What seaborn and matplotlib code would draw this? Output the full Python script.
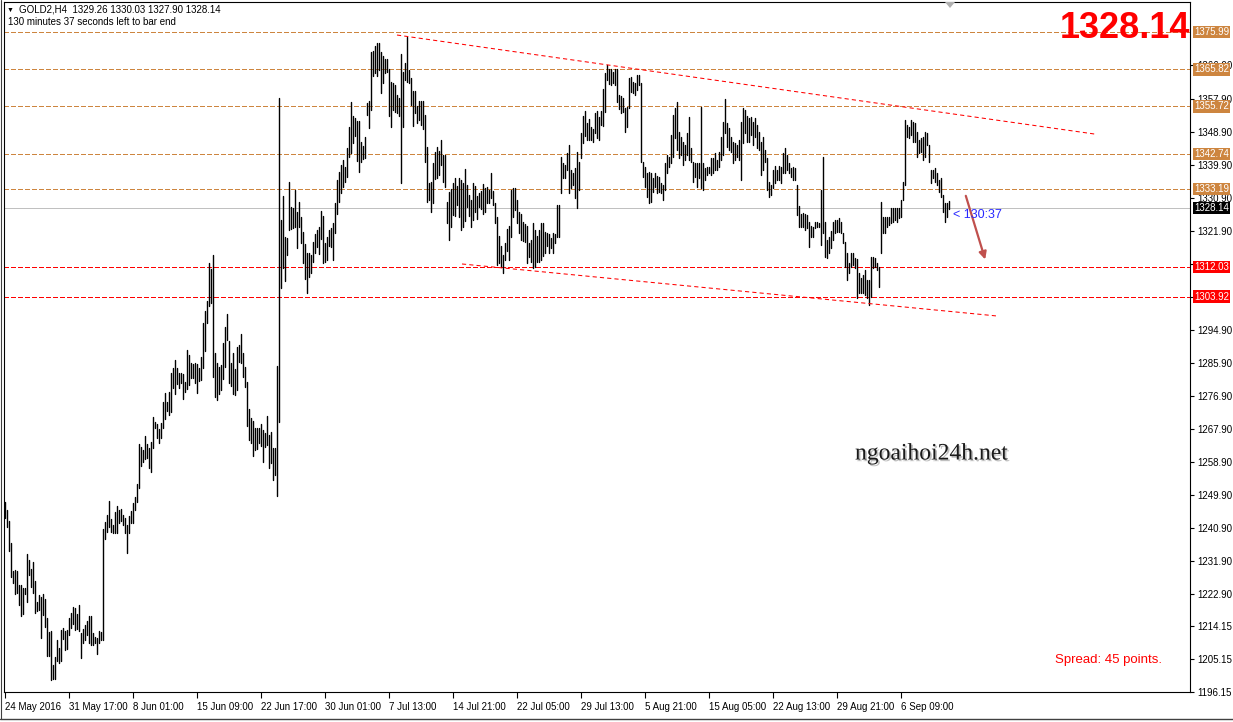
"""
GOLD H4 bar chart (MT4 style) redrawn with seaborn + matplotlib.
Output: out.png (1233x722)
"""

import numpy as np
import pandas as pd

import matplotlib
matplotlib.use("Agg")
import matplotlib.pyplot as plt
import matplotlib.transforms as mtransforms
import matplotlib.patheffects as pe
import seaborn as sns


# ══════════════════════════════════════════════════════════════
# Data
# ══════════════════════════════════════════════════════════════
SYMBOL_LINE = "GOLD2,H4  1329.26 1330.03 1327.90 1328.14"
TIMER_LINE = "130 minutes 37 seconds left to bar end"
LAST_PRICE = 1328.14

# H4 bar highs, oldest first
highs = [
    1247.9, 1245.7, 1242.7, 1236.8, 1229.1, 1229.4, 1229.1, 1225.3, 1225.3, 1224.5,
    1224.5, 1233.7, 1232.1, 1229.6, 1231.6, 1226.4, 1220.7, 1222.6, 1222.0, 1222.8,
    1221.5, 1216.3, 1212.5, 1212.7, 1203.5, 1205.7, 1210.3, 1208.1, 1213.0, 1213.6,
    1212.7, 1213.0, 1216.3, 1217.6, 1219.3, 1219.0, 1217.4, 1219.8, 1212.2, 1213.3,
    1214.4, 1215.5, 1216.9, 1216.9, 1212.2, 1211.1, 1210.8, 1212.7, 1212.5, 1240.6,
    1242.5, 1244.4, 1248.2, 1243.3, 1241.6, 1245.2, 1246.8, 1245.7, 1246.0, 1244.4,
    1243.5, 1241.6, 1244.1, 1245.5, 1247.7, 1249.3, 1252.8, 1263.7, 1262.9, 1262.1,
    1265.9, 1263.7, 1262.6, 1264.3, 1271.1, 1269.7, 1269.2, 1267.8, 1269.4, 1275.2,
    1277.6, 1275.2, 1277.9,
    1283.1, 1284.4, 1286.6, 1284.4, 1283.1, 1283.1, 1282.8, 1280.6, 1289.3, 1288.0,
    1285.8, 1285.5, 1285.8, 1285.5, 1284.4, 1287.4, 1296.7, 1300.0, 1302.7, 1313.0,
    1311.4, 1315.2, 1288.5, 1285.8, 1284.7, 1285.2, 1291.2, 1295.6, 1299.1, 1291.8,
    1285.8, 1288.5, 1284.2, 1290.1, 1290.7, 1293.7, 1288.5, 1284.7, 1280.6, 1273.3,
    1270.8, 1270.0, 1268.1, 1268.1, 1268.1, 1269.2, 1267.5, 1266.7, 1271.3, 1266.2,
    1267.0, 1262.6, 1262.6, 1285.0, 1358.0, 1324.8, 1331.3, 1320.1, 1319.8, 1335.1,
    1328.3, 1328.0, 1332.9, 1326.9, 1329.7, 1325.6, 1321.5, 1318.2, 1315.8, 1315.8,
    1315.2, 1318.8, 1320.9, 1322.0, 1322.8,
    1327.2, 1325.8, 1318.5, 1320.1, 1322.0, 1322.6, 1323.9, 1329.4, 1335.7, 1337.8,
    1339.7, 1341.1, 1339.2, 1344.4, 1350.1, 1356.9, 1353.1, 1352.6, 1351.7, 1351.7,
    1346.0, 1344.9, 1347.4, 1356.6, 1357.2, 1370.5, 1370.8, 1372.2, 1373.0, 1373.0,
    1370.5, 1369.4, 1368.6, 1368.6, 1365.9, 1362.4, 1362.1, 1361.5, 1358.8, 1358.0,
    1370.0, 1365.1, 1367.5, 1374.6, 1365.6, 1363.4, 1359.9, 1359.9, 1355.8, 1357.2,
    1357.2, 1357.2, 1353.4, 1344.6, 1334.8, 1335.1, 1340.3, 1343.3, 1344.6, 1343.6,
    1346.6, 1342.5, 1342.5, 1329.7, 1332.4, 1333.2, 1334.8, 1336.2, 1334.0, 1336.2,
    1335.7, 1334.8, 1338.6, 1334.3, 1331.6, 1330.2, 1334.8, 1334.0, 1331.3, 1332.1,
    1332.7, 1334.6, 1333.5, 1333.7, 1332.9, 1337.6, 1332.7, 1329.4, 1325.6, 1320.4,
    1317.7, 1315.2, 1318.5, 1322.3, 1323.1, 1332.9, 1333.5, 1333.5, 1330.2, 1326.9,
    1326.4, 1324.2, 1323.7, 1323.1, 1318.5, 1319.3, 1323.9, 1322.0, 1320.4, 1322.0,
    1323.9, 1323.9, 1321.5, 1321.2, 1320.9, 1319.8, 1321.2, 1320.9, 1328.8, 1328.8,
    1341.9, 1340.3, 1339.7, 1343.0, 1345.2, 1338.4, 1337.6, 1338.9, 1343.3, 1340.6,
    1348.5, 1353.1, 1354.5, 1351.2, 1352.3, 1350.1, 1349.6, 1353.9, 1354.5, 1352.8,
    1354.5, 1360.4, 1364.8, 1367.0, 1365.9, 1365.9, 1365.1, 1365.9, 1365.9, 1358.8,
    1358.5, 1358.0, 1355.3, 1355.5, 1363.4, 1363.7, 1362.4, 1362.1, 1364.3, 1364.3,
    1362.1, 1340.6, 1339.2, 1337.6, 1337.8, 1337.6, 1336.2, 1337.6, 1336.7, 1336.5,
    1334.8, 1334.3, 1340.3, 1342.5, 1341.9, 1347.9, 1353.4, 1355.3, 1356.9, 1348.7,
    1347.4, 1346.0, 1345.2, 1348.5, 1352.8, 1344.4, 1340.6, 1340.3, 1340.3, 1340.3,
    1355.5, 1340.3, 1338.9, 1339.2, 1339.2, 1341.6, 1341.6, 1343.0, 1341.1, 1343.3,
    1347.4, 1351.5, 1357.7, 1351.2, 1349.8, 1347.4, 1346.0, 1345.7, 1345.2, 1346.6,
    1351.5, 1355.3, 1354.7, 1353.1, 1352.6, 1352.8, 1351.5, 1352.6, 1350.6, 1348.7,
    1346.0, 1347.4, 1343.8, 1341.6, 1335.1, 1334.3, 1338.4, 1339.5, 1338.4, 1339.5,
    1339.2, 1343.0, 1344.4, 1342.5, 1340.3, 1338.9, 1339.2, 1338.9, 1334.3, 1328.6,
    1326.4, 1326.7, 1326.4, 1326.1, 1324.2, 1323.1, 1322.8, 1324.2, 1324.2, 1323.9,
    1332.9, 1341.9, 1324.2, 1319.3, 1320.1, 1321.8, 1324.2, 1324.8, 1324.8, 1325.3,
    1324.2, 1321.2, 1318.8, 1315.8, 1313.1, 1315.8, 1315.8, 1314.4, 1314.1, 1310.3,
    1308.9, 1309.8, 1311.1, 1308.4, 1308.4, 1314.7, 1314.7, 1314.4, 1313.1, 1312.0,
    1329.7, 1325.6, 1325.6, 1325.6, 1325.6, 1328.0, 1328.0, 1328.0, 1328.0, 1328.0,
    1330.2, 1335.1, 1352.0, 1350.6, 1350.1, 1352.0, 1351.5, 1351.2, 1348.7, 1346.6,
    1347.1, 1347.4, 1348.7, 1348.5, 1345.2, 1338.4, 1338.4, 1338.9, 1337.6, 1335.7,
    1336.2, 1331.6, 1329.4, 1329.4, 1330.0,
]

# H4 bar lows, oldest first
lows = [
    1243.5, 1241.1, 1234.5, 1227.5, 1225.8, 1222.8, 1223.1, 1219.9, 1216.9, 1217.4,
    1222.8, 1220.7, 1228.0, 1224.8, 1223.1, 1217.7, 1218.2, 1218.5, 1210.9, 1217.1,
    1213.8, 1206.0, 1206.0, 1199.4, 1199.7, 1199.7, 1204.6, 1204.1, 1204.6, 1210.6,
    1207.6, 1207.8, 1211.7, 1213.6, 1214.7, 1213.0, 1213.3, 1212.7, 1205.4, 1209.5,
    1210.3, 1211.7, 1209.5, 1209.0, 1209.0, 1209.5, 1206.5, 1209.5, 1210.3, 1210.3,
    1237.8, 1239.7, 1241.1, 1239.7, 1239.5, 1239.5, 1239.5, 1242.2, 1242.7, 1241.6,
    1239.5, 1234.0, 1239.5, 1242.2, 1242.2, 1245.7, 1247.9, 1251.7, 1257.7, 1258.8,
    1259.6, 1259.9, 1257.2, 1256.1, 1262.6, 1268.1, 1265.3, 1264.0, 1265.3, 1268.1,
    1270.5, 1272.7, 1271.6,
    1272.4, 1279.0, 1277.3, 1280.1, 1279.0, 1280.3, 1276.0, 1277.9, 1278.7, 1279.8,
    1281.7, 1281.7, 1280.3, 1277.6, 1280.9, 1281.2, 1284.4, 1289.1, 1296.7, 1301.3,
    1302.1, 1282.0, 1276.5, 1275.7, 1277.3, 1278.4, 1281.4, 1284.7, 1292.1, 1280.3,
    1279.5, 1277.3, 1277.1, 1278.4, 1286.1, 1285.8, 1282.0, 1279.2, 1268.6, 1264.8,
    1264.0, 1260.5, 1262.1, 1262.3, 1264.0, 1263.2, 1258.8, 1262.9, 1263.4, 1257.2,
    1258.5, 1253.9, 1255.3, 1249.6, 1269.7, 1306.2, 1311.7, 1308.1, 1315.2, 1322.0,
    1322.3, 1322.6, 1322.8, 1317.1, 1322.8, 1318.5, 1313.1, 1308.7, 1304.9, 1309.2,
    1310.3, 1313.3, 1315.8, 1317.4, 1315.5,
    1319.6, 1313.1, 1313.3, 1313.9, 1317.7, 1317.4, 1313.9, 1321.2, 1326.4, 1329.7,
    1332.1, 1333.7, 1335.1, 1336.5, 1341.9, 1343.0, 1345.7, 1347.6, 1340.8, 1337.8,
    1340.6, 1341.4, 1341.6, 1353.4, 1349.8, 1354.7, 1364.0, 1364.8, 1364.0, 1365.6,
    1359.4, 1362.1, 1364.8, 1365.1, 1353.1, 1350.1, 1354.7, 1354.2, 1353.9, 1353.1,
    1334.8, 1350.1, 1362.9, 1362.4, 1362.1, 1356.1, 1350.4, 1353.9, 1351.2, 1352.0,
    1350.6, 1349.5, 1340.6, 1329.7, 1330.2, 1326.9, 1329.4, 1335.9, 1336.2, 1337.0,
    1339.7, 1335.1, 1333.7, 1323.9, 1319.3, 1322.8, 1326.1, 1325.8, 1328.8, 1325.6,
    1322.0, 1322.8, 1324.5, 1328.3, 1325.8, 1322.8, 1324.8, 1326.9, 1325.0, 1328.3,
    1327.7, 1326.4, 1326.9, 1329.4, 1329.4, 1330.7, 1328.8, 1323.9, 1312.5, 1313.1,
    1312.0, 1310.3, 1313.9, 1316.3, 1313.9, 1320.1, 1325.6, 1327.5, 1323.9, 1321.2,
    1319.3, 1319.0, 1318.8, 1313.1, 1314.7, 1313.3, 1311.7, 1312.0, 1313.3, 1313.3,
    1313.9, 1314.9, 1315.8, 1317.7, 1315.8, 1317.1, 1315.8, 1318.5, 1320.1, 1320.1,
    1332.1, 1336.2, 1336.2, 1338.4, 1332.1, 1333.5, 1334.3, 1330.7, 1328.0, 1332.9,
    1341.6, 1345.7, 1347.6, 1346.6, 1346.6, 1346.6, 1346.0, 1348.5, 1347.1, 1346.6,
    1350.6, 1350.4, 1354.2, 1362.9, 1361.8, 1361.5, 1362.1, 1361.5, 1356.9, 1355.0,
    1353.9, 1354.2, 1348.7, 1350.1, 1355.3, 1359.6, 1359.4, 1358.8, 1360.2, 1361.5,
    1340.6, 1336.5, 1333.7, 1331.0, 1329.4, 1329.7, 1332.4, 1333.7, 1332.1, 1332.4,
    1332.1, 1330.2, 1332.9, 1337.6, 1339.2, 1340.3, 1341.9, 1347.1, 1343.8, 1341.6,
    1342.5, 1339.7, 1341.1, 1342.5, 1341.1, 1340.6, 1335.1, 1336.5, 1333.7, 1336.2,
    1333.5, 1332.9, 1335.7, 1337.0, 1337.6, 1337.0, 1337.6, 1338.4, 1338.4, 1339.2,
    1341.1, 1342.5, 1348.5, 1344.6, 1343.8, 1343.3, 1340.3, 1341.1, 1341.9, 1341.1,
    1335.7, 1345.7, 1348.5, 1346.0, 1346.0, 1347.9, 1345.2, 1347.4, 1344.4, 1343.8,
    1337.0, 1338.4, 1340.6, 1332.9, 1331.0, 1331.6, 1333.5, 1334.8, 1335.7, 1335.7,
    1334.8, 1337.6, 1337.6, 1338.4, 1337.6, 1336.5, 1335.7, 1335.7, 1326.1, 1322.8,
    1322.8, 1322.8, 1322.0, 1322.6, 1317.4, 1320.1, 1320.1, 1322.6, 1322.8, 1322.8,
    1317.9, 1321.2, 1314.7, 1314.4, 1315.8, 1317.1, 1319.3, 1321.2, 1321.5, 1321.5,
    1321.2, 1318.5, 1311.9, 1308.4, 1310.3, 1311.9, 1312.5, 1311.7, 1303.5, 1304.9,
    1304.9, 1304.9, 1304.3, 1303.5, 1301.6, 1303.8, 1311.7, 1312.0, 1311.1, 1306.5,
    1315.8, 1321.2, 1321.2, 1322.8, 1323.4, 1323.9, 1324.2, 1324.8, 1324.2, 1325.3,
    1325.6, 1330.2, 1334.3, 1347.4, 1347.1, 1347.9, 1346.0, 1346.0, 1341.9, 1343.0,
    1343.3, 1341.1, 1341.9, 1345.2, 1340.6, 1334.8, 1336.2, 1335.1, 1334.3, 1332.4,
    1331.0, 1326.9, 1324.2, 1325.6, 1327.9,
]

# time axis labels (one every 32 bars)
date_labels = [
    "24 May 2016", "31 May 17:00", "8 Jun 01:00", "15 Jun 09:00", "22 Jun 17:00",
    "30 Jun 01:00", "7 Jul 13:00", "14 Jul 21:00", "22 Jul 05:00", "29 Jul 13:00",
    "5 Aug 21:00", "15 Aug 05:00", "22 Aug 13:00", "29 Aug 21:00", "6 Sep 09:00",
]
date_tick_bars = [0, 32, 64, 96, 128, 160, 192, 224, 256, 288, 320, 352, 384, 416, 448]

# price scale labels (the two under the red boxes are hidden in the reference)
price_ticks = [
    1196.15, 1205.15, 1214.15, 1222.90, 1231.90, 1240.90, 1249.90, 1258.90,
    1267.90, 1276.90, 1285.90, 1294.90, 1303.90, 1312.90, 1321.90, 1330.90,
    1339.90, 1348.90, 1357.90, 1366.90,
]
hidden_ticks = [1303.90, 1312.90]

# horizontal levels drawn on the chart
level_prices = [1375.99, 1365.82, 1355.72, 1342.74, 1333.19, 1312.03, 1303.92]
level_kinds = ["res", "res", "res", "res", "res", "sup", "sup"]

# trend lines: (bar, price) end points
upper_trend_bars = [196, 545]
upper_trend_prices = [1375.2, 1348.2]
lower_trend_bars = [228.5, 496.5]
lower_trend_prices = [1312.8, 1298.6]

# forecast arrow: (bar, price) from -> to
arrow_bars = [480, 490.5]
arrow_prices = [1332.1, 1313.3]


# ══════════════════════════════════════════════════════════════
# Style
# ══════════════════════════════════════════════════════════════
W, H = 1233, 722
ORANGE = "#CD853F"
RED = "#FF0000"
ARROW = "#C0504D"

sns.set_theme(style="white")
plt.rcParams["font.family"] = ["Liberation Sans", "DejaVu Sans"]
plt.rcParams["axes.linewidth"] = 0.8


def px(x, y):
    """pixel position (from top-left) -> figure fraction"""
    return x / W, 1 - y / H


# ══════════════════════════════════════════════════════════════
# Figure
# ══════════════════════════════════════════════════════════════
fig = plt.figure(figsize=(W / 100, H / 100), dpi=100)
fig.patch.set_facecolor("white")
ax = fig.add_axes([4 / W, 30 / H, 1186 / W, 690 / H])
ax.set_facecolor("white")

# price bars: every bar is one unit (low -> high vertical line)
bar_idx = np.arange(len(highs))
bar_df = pd.DataFrame({
    "bar": np.repeat(bar_idx, 2),
    "price": np.column_stack([lows, highs]).ravel(),
})
sns.lineplot(
    data=bar_df, x="bar", y="price", units="bar", estimator=None,
    color="black", linewidth=1.0, ax=ax, sort=False, legend=False,
)

# horizontal levels (crisp 1 px dashed)
for price, kind in zip(level_prices, level_kinds):
    col = ORANGE if kind == "res" else RED
    ax.axhline(price, color=col, lw=0.7, dashes=(4.2, 2.6), antialiased=False,
               zorder=1)

# current price line
ax.axhline(LAST_PRICE, color="#C0C0C0", lw=0.7, antialiased=False, zorder=1)

# trend lines
trend_df = pd.DataFrame({
    "bar": upper_trend_bars + lower_trend_bars,
    "price": upper_trend_prices + lower_trend_prices,
    "line": ["upper"] * 2 + ["lower"] * 2,
})
sns.lineplot(
    data=trend_df, x="bar", y="price", units="line", estimator=None,
    color=RED, linewidth=0.75, ax=ax, legend=False, dashes=False,
)
for ln in ax.lines[-2:]:
    ln.set_dashes((4, 3))

# forecast arrow
ax.annotate(
    "", xy=(arrow_bars[1], arrow_prices[1]), xytext=(arrow_bars[0], arrow_prices[0]),
    arrowprops=dict(arrowstyle="-|>", color=ARROW, lw=1.6, mutation_scale=11),
)

ax.set_xlim(-0.5, 592.5)
ax.set_ylim(1196.15, 1384.2)
ax.set_xlabel("")
ax.set_ylabel("")

# axes / ticks
for side in ["top", "left", "right", "bottom"]:
    ax.spines[side].set_color("black")
    ax.spines[side].set_linewidth(0.8)
ax.yaxis.tick_right()
ax.set_yticks(price_ticks,
              labels=["" if p in hidden_ticks else f"{p:.2f}" for p in price_ticks])
ax.set_xticks(date_tick_bars, labels=date_labels)
ax.tick_params(axis="y", which="both", direction="out", length=3, width=0.8,
               pad=2, labelsize=7, colors="black", right=True, left=False)
ax.tick_params(axis="x", which="both", direction="out", length=4, width=0.8,
               pad=3, labelsize=7, colors="black", bottom=True)
for lbl in ax.get_xticklabels():
    lbl.set_horizontalalignment("left")

# right-side price boxes
trans = mtransforms.blended_transform_factory(fig.transFigure, ax.transData)
box_kw = dict(transform=trans, ha="left", va="center", fontsize=7, color="white",
              clip_on=False, zorder=10)
for price, kind in zip(level_prices, level_kinds):
    col = ORANGE if kind == "res" else RED
    ax.text(1194 / W, price, f"{price:.2f}",
            bbox=dict(boxstyle="square,pad=0.12", fc=col, ec="none"), **box_kw)
ax.text(1194 / W, LAST_PRICE, f"{LAST_PRICE:.2f}",
        bbox=dict(boxstyle="square,pad=0.12", fc="black", ec="none"), **box_kw)

# header texts
fig.text(*px(7, 10), "\u25BC", fontsize=5, va="center", ha="left", color="black")
fig.text(*px(19, 10), SYMBOL_LINE, fontsize=7, va="center", ha="left", color="black")
fig.text(*px(8, 22), TIMER_LINE, fontsize=7, va="center", ha="left", color="black")

# chart shift marker at the top
fig.add_artist(plt.Polygon(
    [px(945, 2), px(955, 2), px(950, 8)], closed=True, transform=fig.transFigure,
    fc="#B0B0B0", ec="none"))

# big last price
fig.text(*px(1190, 29), f"{LAST_PRICE:.2f}", fontsize=26, fontweight="bold",
         color=RED, ha="right", va="center")

# countdown next to the last bar
fig.text(*px(953, 215), "< 130:37", fontsize=9, color="#2828FF",
         ha="left", va="center")

# watermark
fig.text(*px(855, 454), "ngoaihoi24h.net", fontsize=17, color="#1A1A1A",
         family="Liberation Serif", ha="left", va="center",
         path_effects=[pe.withSimplePatchShadow(offset=(1.2, -1.2),
                                               shadow_rgbFace="#808080", alpha=0.5)])

# spread info
fig.text(*px(1055, 660), "Spread: 45 points.", fontsize=9.5, color=RED,
         ha="left", va="center")

# window frame lines
fig.add_artist(plt.Line2D([0, 1], [1 - 719 / H] * 2, transform=fig.transFigure,
                          color="#404040", lw=1))
fig.add_artist(plt.Line2D([1 / W] * 2, [1 - 719 / H, 1], transform=fig.transFigure,
                          color="#404040", lw=0.8))

fig.savefig("out.png", dpi=100, facecolor="white")
plt.close(fig)
